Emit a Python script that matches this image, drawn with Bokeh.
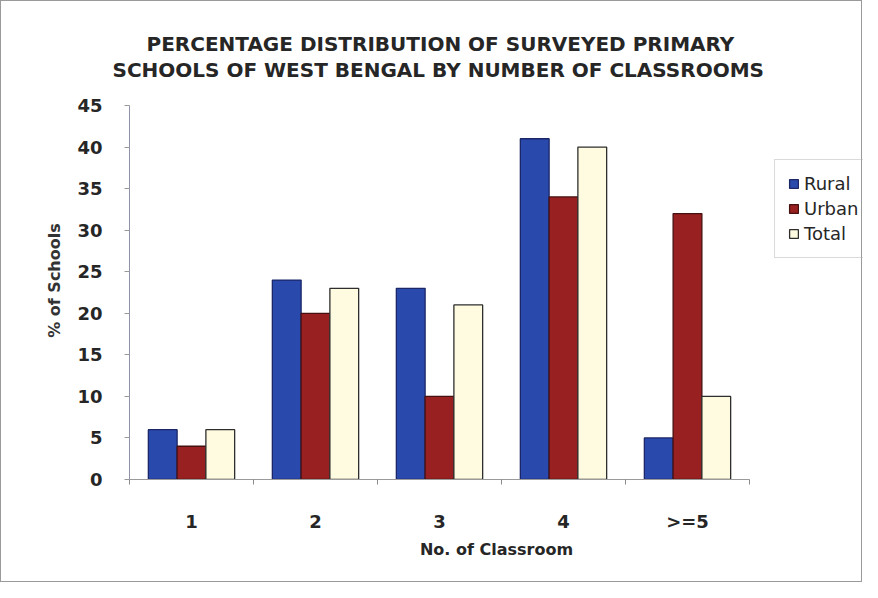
from bokeh.plotting import figure
from bokeh.models import ColumnDataSource, Legend, LegendItem, FixedTicker, Range1d, Title
from bokeh.transform import dodge
from bokeh.embed import file_html
from bokeh.resources import INLINE

categories = ["1", "2", "3", "4", ">=5"]
rural = [6, 24, 23, 41, 5]
urban = [4, 20, 10, 34, 32]
total = [6, 23, 21, 40, 10]
y_ticks = [0, 5, 10, 15, 20, 25, 30, 35, 40, 45]
title_lines = ["PERCENTAGE DISTRIBUTION OF  SURVEYED PRIMARY",
               "SCHOOLS  OF WEST BENGAL BY NUMBER OF CLASSROOMS"]

xs = [i + 0.5 for i in range(len(categories))]
src = ColumnDataSource(dict(x=xs, cat=categories, rural=rural, urban=urban, total=total))

FONT = "DejaVu Sans"
W, H = 862, 582
LEFT = 128          # frame left
FRAME_TOP = 80      # frame top (room kept above the 45 tick for the titles)
Y45 = 104           # pixel row of the 45 tick
Y0 = 478            # pixel row of the 0 tick
px_per_cat = 124.0
y_max = y_ticks[-1]
y_top = y_max * (Y0 - FRAME_TOP) / (Y0 - Y45)

p = figure(x_range=Range1d(0, (W - LEFT) / px_per_cat), y_range=Range1d(0, y_top),
           width=W, height=H, output_backend="svg", toolbar_location=None,
           min_border_left=LEFT, min_border_right=0, min_border_top=FRAME_TOP,
           min_border_bottom=H - Y0)
p.styles = {"border": "1px solid #9a9a9a"}

w = 0.232
r1 = p.vbar(x=dodge("x", -w), top="rural", width=w, source=src,
            fill_color="#2a49ad", line_color="#1b2766", line_width=1.3)
r2 = p.vbar(x=dodge("x", 0), top="urban", width=w, source=src,
            fill_color="#992020", line_color="#471010", line_width=1.3)
r3 = p.vbar(x=dodge("x", w), top="total", width=w, source=src,
            fill_color="#fffbe0", line_color="#2e2e2e", line_width=1.3)

# title: two centred lines
p.title.text = title_lines[0]
p.title.align = "left"
p.title.offset = 17
p.title.text_font = FONT
p.title.text_font_size = "20px"
p.title.text_font_style = "bold"
p.title.text_color = "#262626"
p.title.standoff = 0
t2 = Title(text=title_lines[1], align="left", offset=-17, text_font=FONT,
           text_font_size="20px", text_font_style="bold", text_color="#262626", standoff=0)
p.add_layout(t2, "above")

p.xgrid.grid_line_color = None
p.ygrid.grid_line_color = None
p.outline_line_color = None

p.yaxis.ticker = FixedTicker(ticks=y_ticks)
p.yaxis.bounds = (0, y_max)
p.yaxis.axis_line_color = "#8f93a8"
p.yaxis.major_tick_line_color = "#9a9a9a"
p.yaxis.major_tick_in = 0
p.yaxis.major_tick_out = 5
p.yaxis.minor_tick_line_color = None
p.yaxis.major_label_text_font = FONT
p.yaxis.major_label_text_font_style = "bold"
p.yaxis.major_label_text_font_size = "18px"
p.yaxis.major_label_text_color = "#262626"
p.yaxis.major_label_standoff = 22
p.yaxis.axis_label = "% of Schools"
p.yaxis.axis_label_text_font = FONT
p.yaxis.axis_label_text_font_style = "bold"
p.yaxis.axis_label_text_font_size = "16px"
p.yaxis.axis_label_text_color = "#333333"
p.yaxis.axis_label_standoff = 10

p.xaxis.ticker = FixedTicker(ticks=xs, minor_ticks=list(range(len(categories) + 1)))
p.xaxis.major_label_overrides = {x: c for x, c in zip(xs, categories)}
p.xaxis.bounds = (0, len(categories))
p.xaxis.axis_line_color = "#9a9a9a"
p.xaxis.major_tick_line_color = None
p.xaxis.major_tick_in = 0
p.xaxis.major_tick_out = 5
p.xaxis.minor_tick_line_color = "#8a8a8a"
p.xaxis.minor_tick_in = 0
p.xaxis.minor_tick_out = 5
p.xaxis.major_label_text_font = FONT
p.xaxis.major_label_text_font_style = "bold"
p.xaxis.major_label_text_font_size = "18px"
p.xaxis.major_label_text_color = "#262626"
p.xaxis.major_label_standoff = 26
p.xaxis.axis_label = "No. of Classroom"
p.xaxis.axis_label_text_font = FONT
p.xaxis.axis_label_text_font_style = "bold"
p.xaxis.axis_label_text_font_size = "16px"
p.xaxis.axis_label_text_color = "#262626"
p.xaxis.axis_label_standoff = 5

legend = Legend(items=[LegendItem(label="Rural", renderers=[r1]),
                       LegendItem(label="Urban", renderers=[r2]),
                       LegendItem(label="Total", renderers=[r3])],
                location=(645, 221))
legend.label_text_font = FONT
legend.label_text_font_size = "18px"
legend.label_text_color = "#262626"
legend.glyph_width = 11
legend.glyph_height = 11
legend.label_standoff = 5
legend.label_width = 58
legend.label_height = 21
legend.spacing = 4
legend.padding = 13
legend.margin = 0
legend.border_line_color = "#b5b5b5"
legend.background_fill_alpha = 0
p.add_layout(legend)

open("out.html", "w").write(file_html(p, INLINE))
